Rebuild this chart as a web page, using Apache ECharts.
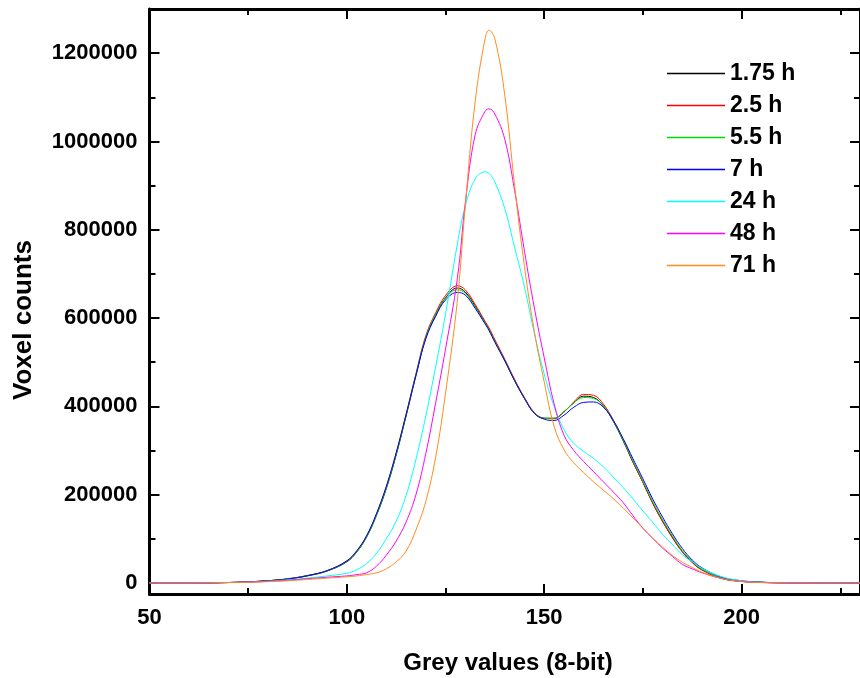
<!DOCTYPE html>
<html>
<head>
<meta charset="utf-8">
<script src="https://cdn.jsdelivr.net/npm/echarts@6/dist/echarts.min.js"></script>
<style>
html,body{margin:0;padding:0;background:#fff;}
#chart{width:860px;height:678px;}
</style>
</head>
<body>
<div id="chart"></div>
<script>
// Grey values (x)
const greyValues = [50,60,70,75,80,85,90,95,100,102.5,105,107.5,110,112.5,115,117.5,120,122.5,125,128,130,132.5,135,136,137.5,140,142.5,145,147.5,150,152.5,155,157.5,160,162.5,165,167.5,170,172.5,175,177.5,180,182.5,185,187.5,190,195,200,205,210,220,230];

// Voxel counts per series
const h175 = [0,0,1000,2500,5000,9000,16000,27000,
  48000,70000,104000,153000,214000,290000,378000,470000,
  555000,607000,646000,668000,659000,627000,590000,575000,548000,
  505000,459000,418000,385000,
  373000,373000,388000,408000,
  423000,420000,401000,366000,
  322000,273000,228000,181000,
  140000,103000,71000,47000,
  30000,10500,4000,1500,500,0,0];
const h25 = [0,0,1000,2500,5000,9500,17000,28000,
  50000,72000,106000,156000,218000,294000,382000,474000,
  560000,612000,651000,673000,664000,631000,593000,578000,551000,
  507000,461000,420000,386000,
  373000,372000,387000,410000,
  427000,425000,405000,369000,
  324000,274000,228000,180000,
  139000,102000,70000,46000,
  29000,10000,3500,1300,400,0,0];
const h55 = [0,0,1000,2500,5000,9000,16500,27500,
  49000,71000,105000,154000,216000,292000,379000,471000,
  556000,608000,645000,664000,656000,625000,589000,574000,547000,
  504000,458000,418000,385000,
  373000,373000,388000,408000,
  420000,418000,401000,367000,
  324000,276000,231000,184000,
  143000,106000,73000,49000,
  31000,11000,4000,1500,500,0,0];
const h7 = [0,0,1000,2500,5000,9000,16500,28000,
  50000,73000,107000,157000,219000,295000,381000,470000,
  553000,604000,641000,658000,652000,622000,587000,572000,545000,
  503000,458000,418000,384000,
  371000,368000,380000,398000,
  409000,410000,398000,368000,
  327000,281000,236000,190000,
  149000,111000,78000,52000,
  34000,13000,5000,1800,600,0,0];
const h24 = [0,0,1000,2000,4000,7000,11000,16000,
  22000,30000,44000,67000,100000,140000,198000,280000,
  378000,490000,609000,768000,853000,915000,931000,928000,908000,
  848000,760000,670000,565000,
  473000,400000,347000,316000,
  298000,282000,263000,240000,
  216000,190000,163000,137000,
  110000,87000,64000,48000,
  33000,14000,5000,1500,500,0,0];
const h48 = [0,0,1000,2000,3500,6000,9500,13000,
  16000,19000,23000,38000,63000,95000,138000,200000,
  293000,408000,530000,690000,860000,1015000,1068000,1074000,1062000,
  1005000,889000,751000,623000,
  510000,406000,335000,300000,
  275000,252000,229000,206000,
  182000,152000,124000,101000,
  79000,60000,42000,32000,
  23000,10000,3500,1000,300,0,0];
const h71 = [0,0,1000,1500,3000,5000,8000,11000,
  14000,16000,19000,23000,32000,48000,72000,120000,
  185000,285000,430000,640000,855000,1090000,1232000,1252000,1232000,
  1105000,900000,716000,570000,
  455000,355000,302000,272000,
  250000,229000,210000,191000,
  170000,147000,124000,101000,
  81000,62000,47000,35000,
  24000,10000,3000,1000,300,0,0];

const seriesNames = ['1.75 h','2.5 h','5.5 h','7 h','24 h','48 h','71 h'];
const seriesValues = [h175, h25, h55, h7, h24, h48, h71];
const seriesColors = ['#000000','#ff0000','#00dd00','#0000ff','#00ffff','#ff00ff','#ff8c1a'];

// Tick labels
const xMajor = [50,100,150,200];
const xMinor = [75,125,175,225];
const yMajor = [0,200000,400000,600000,800000,1000000,1200000];
const yMinor = [100000,300000,500000,700000,900000,1100000];

const FONT = '"Liberation Sans", Arial, sans-serif';
const X_MIN = 50, X_MAX = 230, Y_MIN = -25000, Y_MAX = 1300000;

function mkX(grid, pos, major){
  return {
    gridIndex: grid, type: 'value', position: pos, min: X_MIN, max: X_MAX,
    axisLine: {show: major, onZero: false, lineStyle: {color: '#000', width: 3}},
    axisTick: {show: true, inside: true, length: major ? 10 : 6, lineStyle: {color: '#000', width: 2},
               customValues: major ? xMajor : xMinor},
    axisLabel: (major && pos === 'bottom') ? {show: true, customValues: xMajor, margin: 13,
               formatter: v => String(v),
               fontFamily: FONT, fontSize: 22, fontWeight: 'bold', color: '#000'} : {show: false},
    splitLine: {show: false}, minorTick: {show: false}
  };
}
function mkY(grid, pos, major){
  return {
    gridIndex: grid, type: 'value', position: pos, min: Y_MIN, max: Y_MAX,
    axisLine: {show: major, onZero: false, lineStyle: {color: '#000', width: 3}},
    axisTick: {show: true, inside: true, length: major ? 10 : 6, lineStyle: {color: '#000', width: 2},
               customValues: major ? yMajor : yMinor},
    axisLabel: (major && pos === 'left') ? {show: true, customValues: yMajor, margin: 12,
               formatter: v => String(v),
               fontFamily: FONT, fontSize: 22, fontWeight: 'bold', color: '#000'} : {show: false},
    splitLine: {show: false}, minorTick: {show: false}
  };
}

const gridBox = {left: 149.5, top: 9, right: -8, bottom: 84, containLabel: false};

const option = {
  animation: false,
  backgroundColor: '#fff',
  grid: [Object.assign({}, gridBox), Object.assign({}, gridBox)],
  xAxis: [mkX(0,'bottom',true), mkX(0,'top',true), mkX(1,'bottom',false), mkX(1,'top',false)],
  yAxis: [mkY(0,'left',true), mkY(0,'right',true), mkY(1,'left',false), mkY(1,'right',false)],
  legend: {
    orient: 'vertical', left: 667, top: 62, itemWidth: 58, itemHeight: 1.5, itemGap: 9, padding: 0,
    icon: 'rect', selectedMode: false, data: seriesNames,
    textStyle: {fontFamily: FONT, fontSize: 23, fontWeight: 'bold', color: '#000', lineHeight: 22}
  },
  graphic: [
    {type: 'text', x: 508, y: 663, style: {text: 'Grey values (8-bit)', fontFamily: FONT, fontSize: 24,
      fontWeight: 'bold', fill: '#000', align: 'center', verticalAlign: 'middle'}},
    {type: 'text', x: 24, y: 320, rotation: Math.PI / 2, style: {text: 'Voxel counts', fontFamily: FONT,
      fontSize: 26, fontWeight: 'bold', fill: '#000', align: 'center', verticalAlign: 'middle'}}
  ],
  series: seriesNames.map((name, i) => ({
    name: name, type: 'line', xAxisIndex: 0, yAxisIndex: 0,
    data: greyValues.map((g, j) => [g, seriesValues[i][j]]),
    showSymbol: false, symbol: 'none', smooth: 0.4,
    color: seriesColors[i],
    lineStyle: {width: 1, color: seriesColors[i]},
    itemStyle: {color: seriesColors[i]}
  }))
};

const chart = echarts.init(document.getElementById('chart'), null, {renderer: 'canvas'});
chart.setOption(option);
</script>
</body>
</html>
